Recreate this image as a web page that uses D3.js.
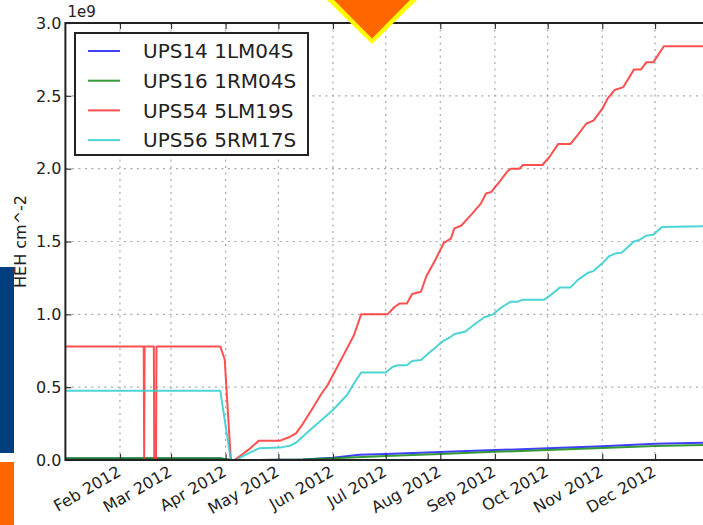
<!DOCTYPE html>
<html>
<head>
<meta charset="utf-8">
<script src="https://cdn.jsdelivr.net/npm/d3@7"></script>
<style>
  html, body { margin: 0; padding: 0; background: #fff; overflow: hidden; }
  svg { display: block; }
  text { font-family: "DejaVu Sans", sans-serif; }
</style>
</head>
<body>
<svg id="chart" width="703" height="525"></svg>
<script>
// Cumulative HEH fluence per detector, in units of 1e9 HEH cm^-2.
const seriesNames = ["UPS14 1LM04S", "UPS16 1RM04S", "UPS54 5LM19S", "UPS56 5RM17S"];
const seriesColors = ["#1f1fff", "#138a13", "#ff3030", "#2ecccc"];

const ups14 = [
  ["2012-01-01", 0.010], ["2012-03-29", 0.010], ["2012-04-04", 0.0], ["2012-04-20", 0.0],
  ["2012-05-15", 0.003], ["2012-06-01", 0.015], ["2012-06-16", 0.036], ["2012-07-01", 0.042],
  ["2012-08-01", 0.055], ["2012-09-01", 0.068], ["2012-10-01", 0.080], ["2012-11-01", 0.095],
  ["2012-12-01", 0.112], ["2012-12-31", 0.120]
];

const ups16 = [
  ["2012-01-01", 0.012], ["2012-03-29", 0.012], ["2012-04-04", 0.0], ["2012-04-20", 0.0],
  ["2012-05-15", 0.004], ["2012-06-01", 0.012], ["2012-07-01", 0.027], ["2012-08-01", 0.042],
  ["2012-09-01", 0.056], ["2012-10-01", 0.068], ["2012-11-01", 0.082], ["2012-12-01", 0.096],
  ["2012-12-31", 0.103]
];

const ups54 = [
  ["2012-01-01", 0.78], ["2012-02-14T12", 0.78], ["2012-02-14T18", 0.0], ["2012-02-15T00", 0.78],
  ["2012-02-20T06", 0.78], ["2012-02-20T12", 0.0], ["2012-02-21T12", 0.0], ["2012-02-21T18", 0.78],
  ["2012-03-29", 0.78], ["2012-03-31T12", 0.69], ["2012-04-04", 0.0], ["2012-04-06", 0.0],
  ["2012-04-10", 0.034], ["2012-04-15", 0.08], ["2012-04-20", 0.133], ["2012-05-02", 0.133],
  ["2012-05-07", 0.156], ["2012-05-11", 0.183], ["2012-05-15", 0.25], ["2012-05-21", 0.366],
  ["2012-05-25", 0.446], ["2012-05-29", 0.515], ["2012-06-02", 0.606], ["2012-06-07", 0.72],
  ["2012-06-13", 0.858], ["2012-06-17", 1.0], ["2012-07-02", 1.0], ["2012-07-06", 1.05],
  ["2012-07-09", 1.075], ["2012-07-13", 1.075], ["2012-07-16", 1.14], ["2012-07-21", 1.155],
  ["2012-07-24", 1.26], ["2012-07-29", 1.37], ["2012-08-03", 1.49], ["2012-08-07", 1.52],
  ["2012-08-09", 1.59], ["2012-08-13", 1.61], ["2012-08-16", 1.65], ["2012-08-19", 1.69],
  ["2012-08-24", 1.76], ["2012-08-27", 1.83], ["2012-08-30", 1.84], ["2012-09-03", 1.90],
  ["2012-09-08", 1.98], ["2012-09-10", 2.0], ["2012-09-15", 2.0], ["2012-09-17", 2.025],
  ["2012-09-28", 2.025], ["2012-10-02", 2.08], ["2012-10-07", 2.17], ["2012-10-14", 2.17],
  ["2012-10-18", 2.23], ["2012-10-23", 2.31], ["2012-10-27", 2.33], ["2012-11-01", 2.41],
  ["2012-11-04", 2.48], ["2012-11-08", 2.54], ["2012-11-13", 2.56], ["2012-11-19", 2.68],
  ["2012-11-23", 2.68], ["2012-11-26", 2.73], ["2012-11-30", 2.73], ["2012-12-06", 2.84],
  ["2012-12-31", 2.84]
];

const ups56 = [
  ["2012-01-01", 0.475], ["2012-03-29", 0.475], ["2012-04-04", 0.0], ["2012-04-07", 0.0],
  ["2012-04-12", 0.034], ["2012-04-16", 0.057], ["2012-04-20", 0.08], ["2012-05-02", 0.085],
  ["2012-05-08", 0.10], ["2012-05-11", 0.119], ["2012-05-19", 0.206], ["2012-05-26", 0.28],
  ["2012-06-01", 0.343], ["2012-06-09", 0.446], ["2012-06-13", 0.527], ["2012-06-17", 0.60],
  ["2012-07-01", 0.60], ["2012-07-05", 0.64], ["2012-07-08", 0.65], ["2012-07-13", 0.65],
  ["2012-07-16", 0.68], ["2012-07-21", 0.686], ["2012-07-26", 0.74], ["2012-08-03", 0.82],
  ["2012-08-07", 0.846], ["2012-08-09", 0.865], ["2012-08-15", 0.88], ["2012-08-20", 0.927],
  ["2012-08-26", 0.98], ["2012-08-31", 1.0], ["2012-09-05", 1.05], ["2012-09-10", 1.087],
  ["2012-09-14", 1.087], ["2012-09-17", 1.10], ["2012-09-29", 1.10], ["2012-10-04", 1.144],
  ["2012-10-08", 1.185], ["2012-10-14", 1.185], ["2012-10-18", 1.235], ["2012-10-24", 1.286],
  ["2012-10-27", 1.297], ["2012-11-01", 1.35], ["2012-11-05", 1.40], ["2012-11-09", 1.42],
  ["2012-11-12", 1.423], ["2012-11-19", 1.50], ["2012-11-22", 1.51], ["2012-11-26", 1.54],
  ["2012-11-30", 1.547], ["2012-12-05", 1.60], ["2012-12-31", 1.606]
];

const yTicks = [0, 0.5, 1.0, 1.5, 2.0, 2.5, 3.0];
const xTickDates = ["2012-02-01", "2012-03-01", "2012-04-01", "2012-05-01", "2012-06-01",
  "2012-07-01", "2012-08-01", "2012-09-01", "2012-10-01", "2012-11-01", "2012-12-01"];
const xTickLabels = ["Feb 2012", "Mar 2012", "Apr 2012", "May 2012", "Jun 2012", "Jul 2012",
  "Aug 2012", "Sep 2012", "Oct 2012", "Nov 2012", "Dec 2012"];
const yLabel = "HEH cm^-2";
const yOffsetLabel = "1e9";

const parseHour = d3.utcParse("%Y-%m-%dT%H");
const parseDay = d3.utcParse("%Y-%m-%d");
const parse = s => parseHour(s) || parseDay(s);

const svg = d3.select("#chart");

const plot = { left: 65.4, right: 709.6, top: 23, bottom: 460 };

const x = d3.scaleUtc()
  .domain([parse("2012-01-01"), parse("2013-01-01")])
  .range([plot.left, plot.right]);
const y = d3.scaleLinear().domain([0, 3]).range([plot.bottom, plot.top]);

const xTicks = xTickDates.map(parse);

// grid
const grid = svg.append("g");
grid.selectAll("line.gx").data(xTicks).join("line")
  .attr("x1", d => x(d)).attr("x2", d => x(d))
  .attr("y1", plot.top).attr("y2", plot.bottom)
  .attr("stroke", "#a8a8a8").attr("stroke-width", 1.2).attr("stroke-dasharray", "2,4.5");
grid.selectAll("line.gy").data(yTicks.slice(1, -1)).join("line")
  .attr("x1", plot.left).attr("x2", plot.right)
  .attr("y1", d => y(d)).attr("y2", d => y(d))
  .attr("stroke", "#a8a8a8").attr("stroke-width", 1.2).attr("stroke-dasharray", "2,4.5");

// series lines
const allSeries = [ups14, ups16, ups54, ups56];
const line = d3.line().x(d => x(parse(d[0]))).y(d => y(d[1]));
svg.append("g").selectAll("path").data(allSeries).join("path")
  .attr("d", d => line(d))
  .attr("fill", "none")
  .attr("stroke", (d, i) => seriesColors[i])
  .attr("stroke-width", 2)
  .attr("stroke-opacity", 0.85)
  .attr("stroke-linejoin", "round");

// axes: inward ticks on all sides, labels outside
const xAxis = d3.axisBottom(x).tickValues(xTicks).tickSize(-6).tickFormat("");
const xAxisTop = d3.axisTop(x).tickValues(xTicks).tickSize(-6).tickFormat("");
const yAxis = d3.axisLeft(y).tickValues(yTicks).tickSize(-6).tickFormat("");

for (const [axis, t] of [[xAxis, `translate(0,${plot.bottom})`], [xAxisTop, `translate(0,${plot.top})`], [yAxis, `translate(${plot.left},0)`]]) {
  const g = svg.append("g").attr("transform", t).call(axis);
  g.select(".domain").remove();
  g.selectAll(".tick line").attr("stroke", "#333").attr("stroke-width", 1.2);
}

// frame
svg.append("rect")
  .attr("x", plot.left).attr("y", plot.top)
  .attr("width", plot.right - plot.left).attr("height", plot.bottom - plot.top)
  .attr("fill", "none").attr("stroke", "#222").attr("stroke-width", 2);

// tick labels
svg.append("g").selectAll("text").data(yTicks).join("text")
  .attr("x", plot.left - 4).attr("y", d => y(d))
  .attr("dy", "0.36em")
  .attr("text-anchor", "end")
  .attr("font-size", 16).attr("fill", "#222")
  .text(d => d.toFixed(1));

svg.append("g").selectAll("text").data(xTicks).join("text")
  .attr("text-anchor", "end")
  .attr("font-size", 16).attr("fill", "#222")
  .attr("transform", d => `translate(${x(d) + 2},${plot.bottom + 15}) rotate(-30)`)
  .text((d, i) => xTickLabels[i]);

svg.append("text")
  .attr("x", plot.left + 2).attr("y", 17)
  .attr("font-size", 15).attr("fill", "#222")
  .text(yOffsetLabel);

svg.append("text")
  .attr("transform", `translate(26,${(plot.top + plot.bottom) / 2}) rotate(-90)`)
  .attr("text-anchor", "middle")
  .attr("font-size", 16).attr("fill", "#222")
  .text(yLabel);

// legend
const legend = svg.append("g");
legend.append("rect")
  .attr("x", 75).attr("y", 33).attr("width", 233).attr("height", 122)
  .attr("fill", "#fff").attr("stroke", "#222").attr("stroke-width", 2);
const rows = legend.selectAll("g").data(seriesNames).join("g")
  .attr("transform", (d, i) => `translate(0,${51 + i * 29.7})`);
rows.append("line")
  .attr("x1", 88).attr("x2", 120)
  .attr("stroke", (d, i) => seriesColors[i]).attr("stroke-width", 2).attr("stroke-opacity", 0.85);
rows.append("text")
  .attr("x", 143).attr("dy", "0.36em")
  .attr("font-size", 20).attr("fill", "#222")
  .text(d => d);

// page decorations around the figure
svg.append("rect").attr("x", 0).attr("y", 267).attr("width", 14).attr("height", 186).attr("fill", "#003f7e");
svg.append("rect").attr("x", 0).attr("y", 462).attr("width", 14).attr("height", 63).attr("fill", "#ff6600");
svg.append("polygon").attr("points", "327,0 417,0 372,44").attr("fill", "#ffff00");
svg.append("polygon").attr("points", "334,0 410,0 372,38.5").attr("fill", "#ff6600");
</script>
</body>
</html>
